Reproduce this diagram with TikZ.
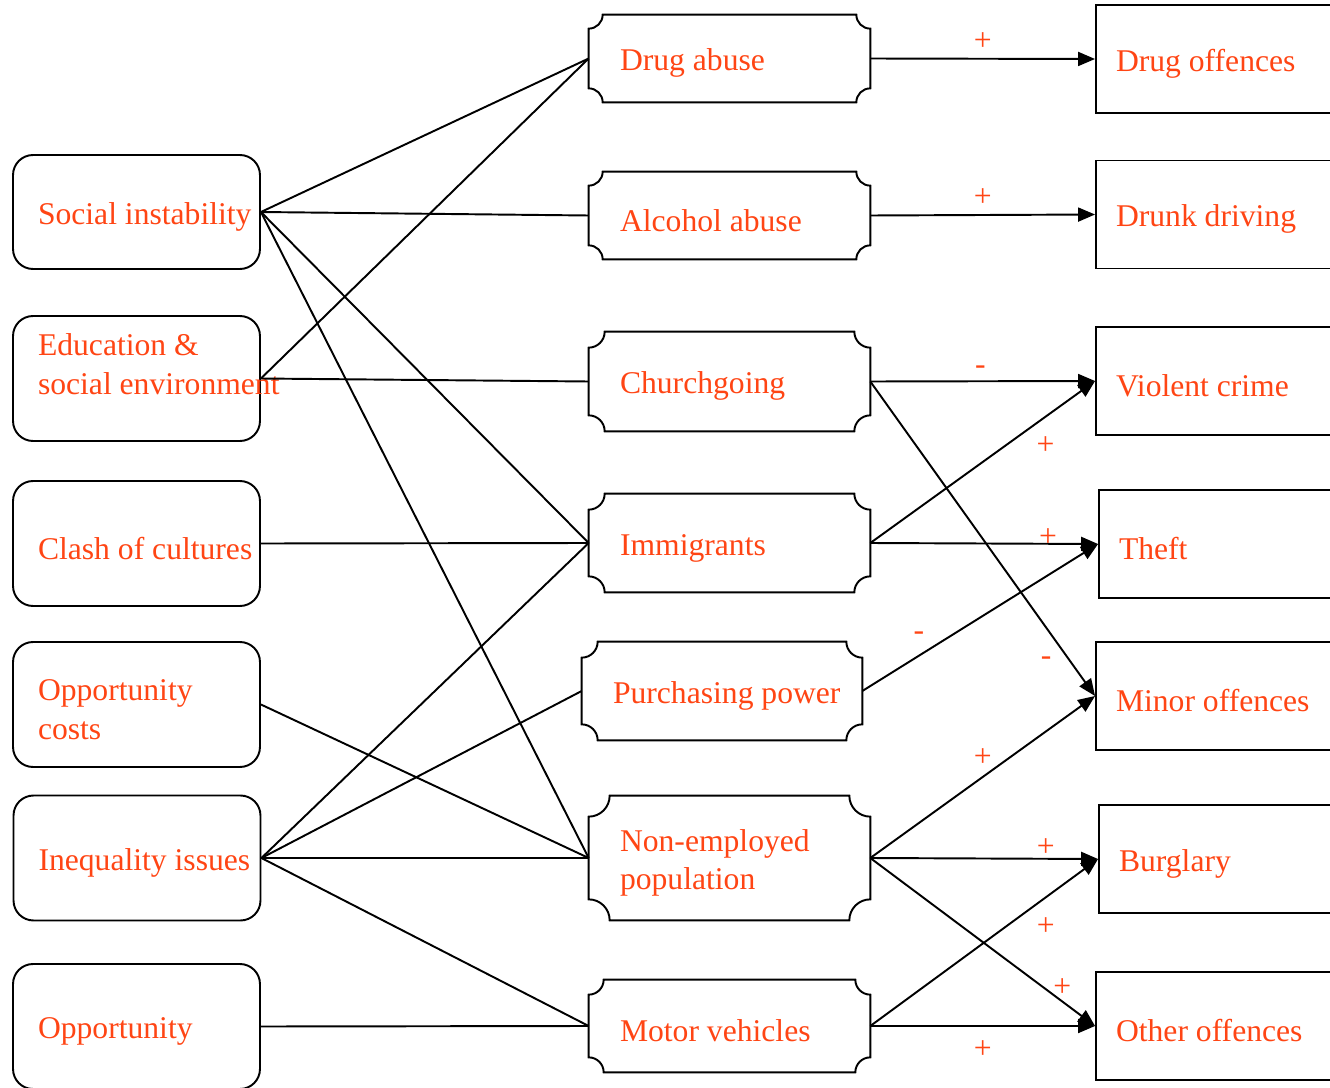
\documentclass[tikz,border=0pt]{standalone}
\usepackage{fontspec}
\setmainfont{Liberation Serif}
\usepackage{xcolor}
\usetikzlibrary{arrows.meta}

\definecolor{lblred}{RGB}{255,69,20}

\tikzset{
  every node/.style={text=lblred},
  boxtext/.style={align=flush left, font=\fontsize{18}{22}\selectfont,
    execute at begin node={\rule{0pt}{18pt}}},
  cause/.style={boxtext, draw=black, line width=1.1pt, rounded corners=0.4cm,
    minimum height=2.5cm, inner xsep=0.5cm, text width=3.94cm},
  factor/.style={boxtext, minimum height=1.96cm, inner xsep=0.62cm, text width=4.38cm},
  crime/.style={boxtext, draw=black, line width=1.1pt, minimum height=2.16cm,
    inner xsep=0.4cm, text width=4.2cm},
  sign/.style={font=\fontsize{18}{22}\selectfont},
  link/.style={line width=1.1pt},
  effect/.style={link, -{Triangle[length=0.34cm, width=0.28cm]}},
}

\begin{document}
\begin{tikzpicture}[x=0.02cm, y=-0.02cm]
  \useasboundingbox (0,0) rectangle (1330,1088);

  % causes
  \node[cause, minimum height=2.28cm] (si) at (136.5,212) {\mbox{Social instability}};
  \node[cause, inner ysep=0pt] (edu) at (136.5,378.5) {Education \&\\ \mbox{social environment}\\ \mbox{}};
  \node[cause] (clash) at (136.5,543.5) {\mbox{Clash of cultures}};
  \node[cause] (oppc) at (136.5,704.5) {Opportunity\\ costs};
  \node[cause] (ineq) at (137,858) {\mbox{Inequality issues}};
  \node[cause] (opp) at (136.5,1026.5) {Opportunity};

  % factors
  \node[factor, minimum height=1.74cm] (drug) at (729.5,58.5) {Drug abuse};
  \node[factor, minimum height=1.74cm] (alc) at (729.5,215.5) {Alcohol abuse};
  \node[factor, minimum height=1.98cm] (church) at (729.5,381.5) {Churchgoing};
  \node[factor] (immi) at (729.5,543) {Immigrants};
  \node[factor, text width=4.36cm] (purch) at (722,691) {\mbox{Purchasing power}};
  \node[factor, minimum height=2.48cm] (nonemp) at (729.5,858) {Non-employed\\ population};
  \node[factor, minimum height=1.84cm] (motor) at (729.5,1026) {Motor vehicles};

  \foreach \n/\r in {drug/0.28cm, alc/0.28cm, church/0.32cm, immi/0.32cm,
                     purch/0.32cm, nonemp/0.42cm, motor/0.3cm}
    \draw[link] ([xshift=\r]\n.north west) -- ([xshift=-\r]\n.north east)
      arc[start angle=180, end angle=270, radius=\r]
      -- ([yshift=\r]\n.south east)
      arc[start angle=90, end angle=180, radius=\r]
      -- ([xshift=\r]\n.south west)
      arc[start angle=0, end angle=90, radius=\r]
      -- ([yshift=-\r]\n.north west)
      arc[start angle=270, end angle=360, radius=\r] -- cycle;

  % crimes
  \node[crime] (drugoff) at (1221,59) {Drug offences};
  \node[crime] (drunk) at (1221,214.5) {Drunk driving};
  \node[crime] (violent) at (1221,381) {Violent crime};
  \node[crime] (theft) at (1224,544) {Theft};
  \node[crime] (minor) at (1221,696) {Minor offences};
  \node[crime] (burg) at (1224,859) {Burglary};
  \node[crime] (other) at (1221,1026) {Other offences};

  % causes -> factors
  \draw[link] (si.east) -- (drug.west);
  \draw[link] (si.east) -- (alc.west);
  \draw[link] (si.east) -- (immi.west);
  \draw[link] (si.east) -- (nonemp.west);
  \draw[link] (edu.east) -- (drug.west);
  \draw[link] (edu.east) -- (church.west);
  \draw[link] (clash.east) -- (immi.west);
  \draw[link] (oppc.east) -- (nonemp.west);
  \draw[link] (ineq.east) -- (immi.west);
  \draw[link] (ineq.east) -- (purch.west);
  \draw[link] (ineq.east) -- (nonemp.west);
  \draw[link] (ineq.east) -- (motor.west);
  \draw[link] (opp.east) -- (motor.west);

  % factors -> crimes
  \draw[effect] (drug.east) -- node[sign, pos=0.5, above=0.02cm]{+} (drugoff.west);
  \draw[effect] (alc.east) -- node[sign, pos=0.5, above=0.04cm]{+} (drunk.west);
  \draw[effect] (church.east) -- node[sign, pos=0.49, above=0pt]{-} (violent.west);
  \draw[effect] (church.east) -- node[sign, pos=0.89, left=0.24cm]{-} (minor.west);
  \draw[effect] (immi.east) -- node[sign, pos=0.78, below=0.26cm]{+} (violent.west);
  \draw[effect] (immi.east) -- node[sign, pos=0.78, above=-0.2cm]{+} (theft.west);
  \draw[effect] (purch.east) -- node[sign, pos=0.24, above=0.16cm]{-} (theft.west);
  \draw[effect] (nonemp.east) -- node[sign, pos=0.5, above=0.08cm]{+} (minor.west);
  \draw[effect] (nonemp.east) -- node[sign, pos=0.77, above=-0.1cm]{+} (burg.west);
  \draw[effect] (nonemp.east) -- node[sign, pos=0.85, above=-0.06cm, xshift=0.02cm]{+} (other.west);
  \draw[effect] (motor.east) -- node[sign, pos=0.77, below=0.26cm]{+} (burg.west);
  \draw[effect] (motor.east) -- node[sign, pos=0.5, below=0.16cm]{+} (other.west);
\end{tikzpicture}
\end{document}
